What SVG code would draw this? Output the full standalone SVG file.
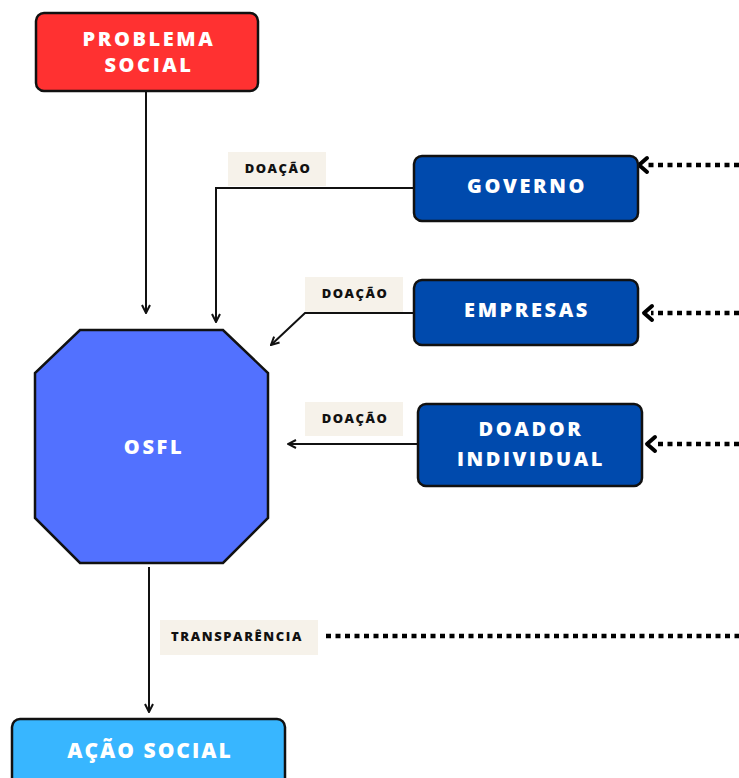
<svg xmlns="http://www.w3.org/2000/svg" width="739" height="778" viewBox="0 0 739 778">
<defs>
<style>
.box{stroke:#111;stroke-width:2.5}
.t{font-family:"Open Sans","Liberation Sans",sans-serif;font-weight:800;fill:#fff;text-anchor:middle}
.big{font-size:20px;letter-spacing:2.6px}
.lab{font-family:"Open Sans","Liberation Sans",sans-serif;font-weight:800;fill:#111;font-size:13px;letter-spacing:1.5px;text-anchor:middle}
.lbg{fill:#f6f2ea}
.ln{stroke:#111;stroke-width:2;fill:none}
.dot{stroke:#000;stroke-width:4.5;fill:none;stroke-dasharray:5 4.5}
.chev{stroke:#000;stroke-width:4;fill:none;stroke-linecap:round;stroke-linejoin:round}
</style>
<marker id="ah" viewBox="0 0 10 10" refX="9" refY="5" markerWidth="10" markerHeight="10" markerUnits="userSpaceOnUse" orient="auto">
<path d="M1,1 L9,5 L1,9" fill="none" stroke="#111" stroke-width="2"/>
</marker>
</defs>
<rect width="739" height="778" fill="#fff"/>
<g id="connectors">
<line class="ln" x1="146" y1="91" x2="146" y2="313" marker-end="url(#ah)"/>
<polyline class="ln" points="414,188 216,188 216,322" marker-end="url(#ah)"/>
<polyline class="ln" points="414,313 305,313 271,345" marker-end="url(#ah)"/>
<line class="ln" x1="418" y1="444" x2="288" y2="444" marker-end="url(#ah)"/>
<line class="ln" x1="149" y1="567" x2="149" y2="712" marker-end="url(#ah)"/>
<line class="dot" x1="739" y1="165" x2="646" y2="165"/>
<path class="chev" d="M647,158 L639,165 L647,172"/>
<line class="dot" x1="739" y1="313" x2="651" y2="313"/>
<path class="chev" d="M652,306 L644,313 L652,320"/>
<line class="dot" x1="739" y1="444" x2="654" y2="444"/>
<path class="chev" d="M655,437 L647,444 L655,451"/>
<line class="dot" x1="326" y1="636" x2="739" y2="636"/>
<rect class="lbg" x="228" y="152" width="98" height="34"/>
<text class="lab" x="278" y="173">DOAÇÃO</text>
<rect class="lbg" x="305" y="277" width="98" height="35"/>
<text class="lab" x="355" y="298">DOAÇÃO</text>
<rect class="lbg" x="305" y="402" width="98" height="34"/>
<text class="lab" x="355" y="423">DOAÇÃO</text>
<rect class="lbg" x="160" y="620" width="158" height="35"/>
<text class="lab" x="237" y="641" style="letter-spacing:1.6px">TRANSPARÊNCIA</text>
</g>
<g id="problema">
<rect class="box" x="36" y="13" width="222" height="78" rx="8" fill="#ff3131"/>
<text class="t big" x="149" y="46">PROBLEMA</text>
<text class="t big" x="149" y="72">SOCIAL</text>
</g>
<g id="governo">
<rect class="box" x="414" y="156" width="224" height="65" rx="8" fill="#004aad"/>
<text class="t big" x="527" y="193">GOVERNO</text>
</g>
<g id="empresas">
<rect class="box" x="414" y="280" width="224" height="65" rx="8" fill="#004aad"/>
<text class="t big" x="527" y="317">EMPRESAS</text>
</g>
<g id="doador">
<rect class="box" x="418" y="404" width="224" height="82" rx="8" fill="#004aad"/>
<text class="t big" x="531" y="436">DOADOR</text>
<text class="t big" x="531" y="466">INDIVIDUAL</text>
</g>
<g id="osfl">
<polygon class="box" points="80,330 223,330 268,373 268,518 223,563 80,563 35,518 35,373" fill="#5271ff"/>
<text class="t big" x="154" y="454">OSFL</text>
</g>
<g id="acao">
<rect class="box" x="12" y="719" width="273" height="75" rx="8" fill="#38b6ff"/>
<text class="t" x="150" y="758" style="font-size:21px;letter-spacing:2px">AÇÃO SOCIAL</text>
</g>
</svg>
